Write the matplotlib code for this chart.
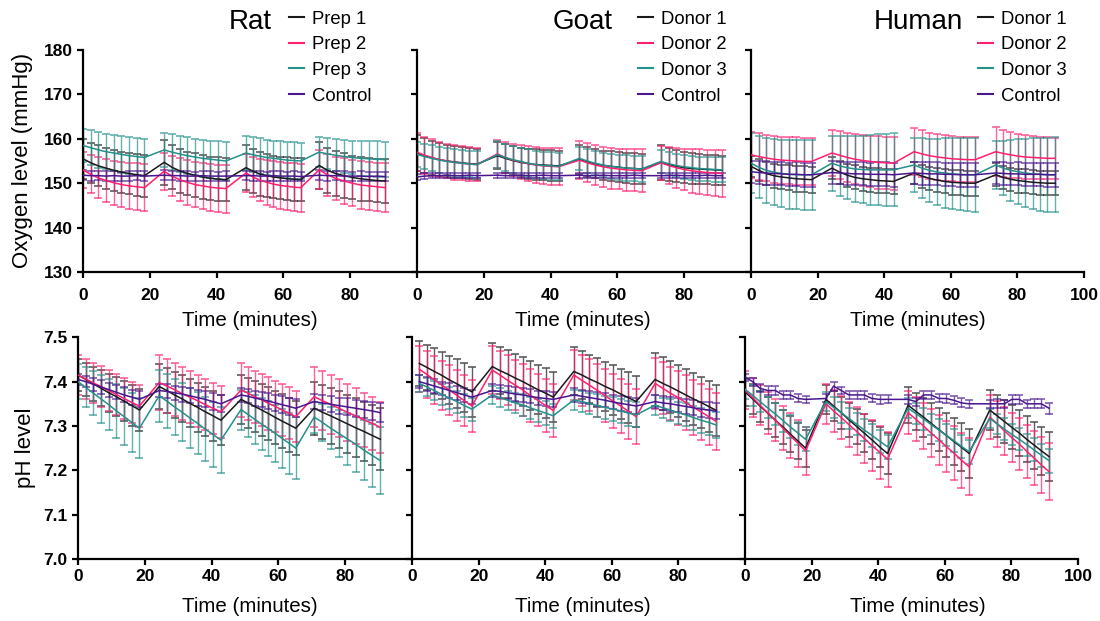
import numpy as np
import matplotlib
matplotlib.use("Agg")
import matplotlib.pyplot as plt
from matplotlib.lines import Line2D

plt.rcParams['font.family'] = ['Liberation Sans', 'DejaVu Sans']

nan = np.nan

# sampling times (minutes), 4 cycles of 9 readings each
RAT_T = [0, 2.3, 4.6, 6.9, 9.2, 11.5, 13.8, 16.1, 18.4,
         24.3, 26.6, 28.9, 31.2, 33.5, 35.8, 38.1, 40.4, 42.8,
         48.8, 50.9, 52.9, 55.0, 57.0, 59.1, 61.1, 63.2, 65.2,
         70.7, 73.2, 75.6, 78.1, 80.6, 83.1, 85.5, 88.0, 90.5]
GOAT_T = [0, 2.2, 4.5, 6.7, 9.0, 11.2, 13.5, 15.7, 18.0,
          24.1, 26.4, 28.7, 31.0, 33.3, 35.5, 37.8, 40.1, 42.4,
          48.6, 51.0, 53.3, 55.7, 58.0, 60.4, 62.7, 65.0, 67.3,
          73.0, 75.3, 77.6, 79.9, 82.2, 84.5, 86.8, 89.1, 91.4]
HUMAN_T = [0, 2.3, 4.5, 6.8, 9.1, 11.4, 13.6, 15.9, 18.2,
           24.3, 26.6, 28.9, 31.2, 33.5, 35.8, 38.1, 40.4, 42.8,
           49.0, 51.3, 53.6, 55.9, 58.2, 60.4, 62.7, 65.0, 67.3,
           73.5, 75.7, 77.9, 80.1, 82.4, 84.6, 86.8, 89.0, 91.3]

RAT_LABELS = ["Prep 1", "Prep 2", "Prep 3", "Control"]
DONOR_LABELS = ["Donor 1", "Donor 2", "Donor 3", "Control"]

# ---------------- oxygen level (mmHg): mean / SD ----------------
RAT_O2_1 = [155.5, 154.6, 153.9, 153.4, 152.9, 152.5, 152.2, 151.9, 151.7,
            154.7, 153.6, 152.8, 152.2, 151.8, 151.4, 151.1, 150.9, 150.8,
            153.5, 152.7, 152.1, 151.7, 151.4, 151.2, 151.0, 150.9, 150.8,
            154.0, 152.9, 152.2, 151.7, 151.3, 151.0, 150.8, 150.6, 150.5]
RAT_O2_1_SD = [4.5, 4.5, 4.6, 4.6, 4.6, 4.6, 4.7, 4.7, 4.7,
               5.0, 5.0, 4.9, 4.9, 4.9, 4.9, 4.9, 4.9, 4.9,
               5.0, 5.0, 4.9, 4.9, 4.8, 4.8, 4.8, 4.8, 4.8,
               5.2, 5.1, 5.0, 5.0, 4.9, 4.9, 4.9, 4.9, 4.9]
RAT_O2_2 = [153.0, 152.0, 151.2, 150.6, 150.1, 149.7, 149.4, 149.2, 149.0,
            152.7, 151.6, 150.8, 150.2, 149.7, 149.4, 149.1, 148.9, 148.8,
            152.3, 151.4, 150.7, 150.2, 149.8, 149.5, 149.3, 149.1, 149.0,
            153.0, 151.9, 151.1, 150.5, 150.0, 149.6, 149.4, 149.2, 149.0]
RAT_O2_2_SD = [4.0, 4.3, 4.6, 4.8, 5.0, 5.1, 5.2, 5.3, 5.3,
               4.2, 4.5, 4.8, 5.0, 5.1, 5.2, 5.3, 5.3, 5.4,
               4.3, 4.6, 4.8, 5.0, 5.1, 5.2, 5.3, 5.4, 5.4,
               4.4, 4.7, 4.9, 5.1, 5.2, 5.3, 5.4, 5.4, 5.5]
RAT_O2_3 = [158.5, 158.0, 157.5, 157.1, 156.8, 156.5, 156.2, 156.0, 155.8,
            157.5, 157.0, 156.6, 156.2, 155.9, 155.6, 155.4, 155.2, 155.0,
            156.8, 156.4, 156.1, 155.8, 155.6, 155.4, 155.2, 155.1, 155.0,
            157.0, 156.6, 156.3, 156.0, 155.8, 155.6, 155.5, 155.4, 155.3]
RAT_O2_3_SD = [3.8, 3.9, 4.0, 4.0, 4.1, 4.1, 4.1, 4.2, 4.2,
               3.9, 4.0, 4.0, 4.1, 4.1, 4.1, 4.2, 4.2, 4.2,
               3.9, 3.9, 4.0, 4.0, 4.0, 4.1, 4.1, 4.1, 4.1,
               3.3, 3.5, 3.6, 3.7, 3.8, 3.9, 3.9, 4.0, 4.0]
RAT_O2_C = [151.8, 151.7, 151.7, 151.6, 151.7, 151.6, 151.6, 151.7, 151.6,
            151.8, 151.7, 151.7, 151.6, 151.6, 151.7, 151.6, 151.6, 151.6,
            151.7, 151.7, 151.6, 151.6, 151.7, 151.6, 151.6, 151.6, 151.5,
            151.8, 151.7, 151.7, 151.6, 151.6, 151.6, 151.5, 151.6, 151.5]
RAT_O2_C_SD = [1.1, 1.1, 1.0, 1.1, 1.1, 1.0, 1.1, 1.0, 1.1,
               1.1, 1.0, 1.1, 1.1, 1.0, 1.1, 1.1, 1.0, 1.1,
               1.0, 1.1, 1.1, 1.0, 1.1, 1.1, 1.0, 1.1, 1.1,
               1.1, 1.1, 1.0, 1.1, 1.0, 1.1, 1.1, 1.0, 1.1]

GOAT_O2_1 = [156.8, 156.2, 155.7, 155.3, 155.0, 154.8, 154.6, 154.4, 154.3,
             156.2, 155.6, 155.1, 154.7, 154.4, 154.2, 154.1, 154.0, 153.9,
             155.3, 154.8, 154.4, 154.0, 153.8, 153.6, 153.4, 153.3, 153.2,
             154.7, 154.2, 153.8, 153.5, 153.3, 153.2, 153.1, 153.0, 152.9]
GOAT_O2_1_SD = [4.0, 3.9, 3.8, 3.7, 3.6, 3.6, 3.5, 3.5, 3.5,
                3.1, 3.2, 3.3, 3.3, 3.4, 3.4, 3.4, 3.4, 3.4,
                3.2, 3.3, 3.3, 3.3, 3.4, 3.4, 3.4, 3.4, 3.4,
                3.9, 3.7, 3.6, 3.5, 3.4, 3.4, 3.3, 3.3, 3.3]
GOAT_O2_2 = [157.0, 156.3, 155.8, 155.3, 155.0, 154.7, 154.5, 154.3, 154.2,
             156.6, 155.8, 155.2, 154.8, 154.4, 154.1, 153.9, 153.8, 153.7,
             155.2, 154.6, 154.1, 153.7, 153.4, 153.2, 153.0, 152.9, 152.8,
             154.6, 154.0, 153.5, 153.1, 152.8, 152.6, 152.4, 152.3, 152.2]
GOAT_O2_2_SD = [4.3, 4.2, 4.1, 4.0, 3.9, 3.9, 3.8, 3.8, 3.8,
                3.1, 3.4, 3.6, 3.8, 3.9, 4.0, 4.1, 4.1, 4.2,
                4.3, 4.4, 4.5, 4.5, 4.6, 4.6, 4.7, 4.7, 4.8,
                3.8, 4.2, 4.5, 4.7, 4.9, 5.0, 5.1, 5.2, 5.2]
GOAT_O2_3 = [156.5, 156.0, 155.6, 155.2, 154.9, 154.7, 154.5, 154.3, 154.2,
             156.4, 155.8, 155.3, 154.9, 154.5, 154.2, 154.0, 153.9, 153.8,
             155.6, 155.0, 154.5, 154.1, 153.8, 153.6, 153.4, 153.3, 153.2,
             154.9, 154.4, 154.0, 153.7, 153.5, 153.3, 153.2, 153.1, 153.0]
GOAT_O2_3_SD = [2.8, 2.8, 2.9, 2.9, 3.0, 3.0, 3.0, 3.0, 3.0,
                3.0, 3.0, 3.0, 3.1, 3.1, 3.1, 3.1, 3.1, 3.1,
                2.6, 2.7, 2.7, 2.8, 2.8, 2.8, 2.9, 2.9, 2.9,
                2.5, 2.6, 2.6, 2.7, 2.7, 2.7, 2.8, 2.8, 2.8]
GOAT_O2_C = [151.4, 151.6, 151.7, 151.7, 151.8, 151.7, 151.7, 151.8, 151.7,
             151.8, 151.7, 151.7, 151.8, 151.7, 151.7, 151.8, 151.7, 151.7,
             151.8, 151.7, 151.7, 151.8, 151.7, 151.7, 151.7, 151.8, 151.7,
             151.7, 151.7, 151.8, 151.7, 151.7, 151.7, 151.8, 151.7, 151.7]
GOAT_O2_C_SD = [0.6, 0.6, 0.5, 0.6, 0.6, 0.5, 0.6, 0.6, 0.6,
                0.6, 0.5, 0.6, 0.6, 0.6, 0.5, 0.6, 0.6, 0.6,
                0.6, 0.6, 0.5, 0.6, 0.6, 0.6, 0.5, 0.6, 0.6,
                0.5, 0.6, 0.6, 0.6, 0.5, 0.6, 0.6, 0.6, 0.6]

HUMAN_O2_1 = [153.8, 152.9, 152.2, 151.7, 151.4, 151.2, 151.0, 150.9, 150.8,
              153.4, 152.5, 151.8, 151.3, 151.0, 150.8, 150.6, 150.5, 150.4,
              152.3, 151.6, 151.1, 150.7, 150.4, 150.2, 150.1, 150.0, 150.0,
              151.9, 151.3, 150.9, 150.6, 150.4, 150.2, 150.1, 150.0, 150.0]
HUMAN_O2_1_SD = [2.4, 2.5, 2.6, 2.7, 2.8, 2.8, 2.9, 2.9, 2.9,
                 2.5, 2.6, 2.6, 2.7, 2.7, 2.7, 2.8, 2.8, 2.8,
                 2.5, 2.6, 2.6, 2.7, 2.7, 2.8, 2.8, 2.8, 2.8,
                 2.6, 2.6, 2.6, 2.7, 2.7, 2.7, 2.7, 2.7, 2.7]
HUMAN_O2_2 = [156.4, 156.0, 155.7, 155.4, 155.2, 155.1, 155.0, 154.9, 154.9,
              156.8, 156.3, 155.8, 155.4, 155.1, 154.9, 154.7, 154.6, 154.5,
              157.1, 156.6, 156.2, 155.9, 155.7, 155.5, 155.4, 155.3, 155.3,
              157.1, 156.7, 156.4, 156.1, 155.9, 155.8, 155.7, 155.6, 155.6]
HUMAN_O2_2_SD = [5.2, 5.2, 5.2, 5.3, 5.3, 5.3, 5.3, 5.3, 5.3,
                 5.2, 5.4, 5.5, 5.6, 5.7, 5.8, 5.9, 5.9, 6.0,
                 5.3, 5.3, 5.2, 5.2, 5.2, 5.1, 5.1, 5.1, 5.1,
                 5.5, 5.3, 5.2, 5.0, 4.9, 4.8, 4.7, 4.7, 4.6]
HUMAN_O2_3 = [154.5, 153.6, 152.9, 152.5, 152.2, 152.0, 151.9, 151.9, 151.9,
              154.5, 153.9, 153.5, 153.2, 153.1, 153.0, 153.0, 153.0, 153.0,
              154.1, 153.4, 152.9, 152.5, 152.3, 152.1, 152.0, 151.9, 151.9,
              154.1, 153.4, 152.9, 152.6, 152.3, 152.1, 152.0, 151.9, 151.9]
HUMAN_O2_3_SD = [6.7, 7.0, 7.3, 7.5, 7.6, 7.7, 7.8, 7.9, 7.9,
                 6.2, 6.7, 7.1, 7.4, 7.6, 7.8, 8.0, 8.1, 8.2,
                 6.1, 6.7, 7.1, 7.5, 7.8, 8.0, 8.1, 8.2, 8.3,
                 5.3, 6.1, 6.8, 7.3, 7.7, 8.0, 8.2, 8.3, 8.4]
HUMAN_O2_C = [152.6, 152.4, 152.3, 152.2, 152.1, 152.0, 152.0, 151.9, 151.9,
              152.4, 152.3, 152.2, 152.1, 152.1, 152.0, 152.0, 152.0, 151.9,
              152.3, 152.2, 152.1, 152.1, 152.0, 152.0, 151.9, 151.9, 151.9,
              152.3, 152.2, 152.1, 152.1, 152.0, 152.0, 152.0, 151.9, 151.9]
HUMAN_O2_C_SD = [2.5, 2.5, 2.6, 2.6, 2.6, 2.6, 2.7, 2.7, 2.7,
                 2.5, 2.5, 2.6, 2.6, 2.6, 2.6, 2.7, 2.7, 2.7,
                 2.5, 2.5, 2.6, 2.6, 2.6, 2.6, 2.7, 2.7, 2.7,
                 2.4, 2.5, 2.5, 2.6, 2.6, 2.6, 2.6, 2.7, 2.7]

# ---------------- pH: mean / SD ----------------
RAT_PH_1 = [7.415, 7.405, 7.395, 7.385, 7.375, 7.366, 7.356, 7.346, 7.336,
            7.389, 7.380, 7.370, 7.361, 7.351, 7.342, 7.332, 7.323, 7.313,
            7.360, 7.352, 7.344, 7.336, 7.328, 7.319, 7.311, 7.303, 7.295,
            7.340, 7.331, 7.323, 7.314, 7.305, 7.296, 7.288, 7.279, 7.270]
RAT_PH_1_SD = [0.035, 0.037, 0.039, 0.041, 0.043, 0.044, 0.045, 0.046, 0.047,
               0.050, 0.051, 0.052, 0.053, 0.054, 0.055, 0.055, 0.056, 0.056,
               0.055, 0.056, 0.057, 0.058, 0.059, 0.060, 0.060, 0.061, 0.061,
               0.060, 0.061, 0.063, 0.064, 0.065, 0.066, 0.067, 0.068, 0.070]
RAT_PH_2 = [7.415, 7.406, 7.397, 7.389, 7.380, 7.371, 7.362, 7.353, 7.345,
            7.398, 7.390, 7.382, 7.373, 7.365, 7.357, 7.348, 7.340, 7.332,
            7.381, 7.374, 7.366, 7.359, 7.351, 7.344, 7.336, 7.329, 7.321,
            7.366, 7.357, 7.349, 7.340, 7.331, 7.323, 7.314, 7.306, 7.297]
RAT_PH_2_SD = [0.045, 0.045, 0.045, 0.046, 0.046, 0.046, 0.047, 0.047, 0.047,
               0.062, 0.061, 0.060, 0.060, 0.059, 0.059, 0.058, 0.058, 0.058,
               0.060, 0.060, 0.059, 0.059, 0.059, 0.058, 0.058, 0.058, 0.058,
               0.068, 0.067, 0.066, 0.065, 0.064, 0.063, 0.061, 0.060, 0.058]
RAT_PH_3 = [7.400, 7.387, 7.374, 7.361, 7.348, 7.334, 7.321, 7.308, 7.295,
            7.368, 7.356, 7.343, 7.331, 7.318, 7.306, 7.293, 7.281, 7.268,
            7.337, 7.326, 7.315, 7.304, 7.294, 7.283, 7.272, 7.261, 7.250,
            7.320, 7.308, 7.295, 7.283, 7.271, 7.259, 7.246, 7.234, 7.222]
RAT_PH_3_SD = [0.040, 0.045, 0.050, 0.054, 0.058, 0.061, 0.064, 0.066, 0.068,
               0.058, 0.061, 0.064, 0.066, 0.068, 0.070, 0.072, 0.073, 0.074,
               0.045, 0.050, 0.055, 0.059, 0.062, 0.065, 0.067, 0.069, 0.070,
               0.035, 0.042, 0.048, 0.054, 0.059, 0.063, 0.067, 0.071, 0.075]
RAT_PH_C = [7.405, 7.400, 7.394, 7.388, 7.382, 7.376, 7.370, 7.365, 7.360,
            7.380, 7.378, 7.375, 7.372, 7.368, 7.364, 7.360, 7.355, 7.350,
            7.370, 7.367, 7.363, 7.360, 7.356, 7.352, 7.348, 7.344, 7.340,
            7.355, 7.352, 7.349, 7.346, 7.343, 7.340, 7.337, 7.334, 7.330]
RAT_PH_C_SD = [0.012, 0.013, 0.014, 0.015, 0.016, 0.016, 0.017, 0.017, 0.018,
               0.015, 0.016, 0.016, 0.017, 0.017, 0.018, 0.018, 0.019, 0.019,
               0.016, 0.016, 0.017, 0.017, 0.018, 0.018, 0.019, 0.019, 0.020,
               0.017, 0.017, 0.018, 0.018, 0.019, 0.019, 0.020, 0.020, 0.021]

GOAT_PH_1 = [nan, 7.441, 7.432, 7.423, 7.414, 7.404, 7.395, 7.386, 7.377,
             7.434, 7.425, 7.417, 7.408, 7.400, 7.391, 7.382, 7.374, 7.365,
             7.423, 7.415, 7.406, 7.398, 7.389, 7.381, 7.372, 7.364, 7.355,
             7.405, 7.396, 7.388, 7.379, 7.370, 7.361, 7.353, 7.344, 7.335]
GOAT_PH_1_SD = [nan, 0.050, 0.051, 0.052, 0.053, 0.054, 0.055, 0.055, 0.056,
                0.054, 0.054, 0.055, 0.055, 0.055, 0.056, 0.056, 0.056, 0.056,
                0.054, 0.054, 0.055, 0.055, 0.056, 0.056, 0.056, 0.057, 0.057,
                0.059, 0.059, 0.058, 0.058, 0.058, 0.058, 0.057, 0.057, 0.057]
GOAT_PH_2 = [nan, 7.428, 7.416, 7.404, 7.392, 7.381, 7.369, 7.357, 7.345,
             7.426, 7.415, 7.403, 7.392, 7.381, 7.369, 7.358, 7.346, 7.335,
             7.415, 7.403, 7.392, 7.380, 7.368, 7.356, 7.345, 7.333, 7.321,
             7.396, 7.385, 7.374, 7.364, 7.353, 7.342, 7.332, 7.321, 7.310]
GOAT_PH_2_SD = [nan, 0.052, 0.053, 0.054, 0.055, 0.056, 0.057, 0.058, 0.058,
                0.054, 0.055, 0.056, 0.057, 0.058, 0.059, 0.059, 0.060, 0.060,
                0.056, 0.057, 0.058, 0.059, 0.060, 0.061, 0.061, 0.062, 0.062,
                0.058, 0.059, 0.060, 0.061, 0.061, 0.062, 0.063, 0.063, 0.064]
GOAT_PH_3 = [nan, 7.396, 7.388, 7.380, 7.371, 7.363, 7.355, 7.346, 7.338,
             7.370, 7.364, 7.358, 7.352, 7.347, 7.341, 7.335, 7.329, 7.323,
             7.359, 7.355, 7.351, 7.346, 7.342, 7.338, 7.334, 7.329, 7.325,
             7.347, 7.341, 7.336, 7.330, 7.325, 7.319, 7.313, 7.308, 7.302]
GOAT_PH_3_SD = [nan, 0.020, 0.021, 0.022, 0.023, 0.024, 0.025, 0.025, 0.026,
                0.020, 0.021, 0.022, 0.023, 0.024, 0.025, 0.026, 0.027, 0.027,
                0.022, 0.023, 0.024, 0.025, 0.026, 0.027, 0.027, 0.028, 0.028,
                0.022, 0.023, 0.024, 0.025, 0.026, 0.027, 0.028, 0.029, 0.030]
GOAT_PH_C = [nan, 7.400, 7.395, 7.390, 7.385, 7.380, 7.375, 7.370, 7.365,
             7.380, 7.378, 7.375, 7.372, 7.370, 7.367, 7.364, 7.362, 7.360,
             7.370, 7.367, 7.364, 7.361, 7.358, 7.354, 7.351, 7.348, 7.345,
             7.355, 7.352, 7.350, 7.347, 7.344, 7.341, 7.338, 7.336, 7.333]
GOAT_PH_C_SD = [nan, 0.014, 0.015, 0.015, 0.015, 0.016, 0.016, 0.016, 0.016,
                0.014, 0.015, 0.015, 0.015, 0.016, 0.016, 0.016, 0.016, 0.017,
                0.015, 0.015, 0.015, 0.016, 0.016, 0.016, 0.017, 0.017, 0.017,
                0.015, 0.015, 0.016, 0.016, 0.016, 0.017, 0.017, 0.017, 0.018]

HUMAN_PH_1 = [7.377, 7.361, 7.345, 7.329, 7.313, 7.298, 7.282, 7.266, 7.250,
              7.360, 7.345, 7.330, 7.314, 7.299, 7.284, 7.269, 7.253, 7.238,
              7.347, 7.333, 7.320, 7.306, 7.292, 7.279, 7.265, 7.252, 7.238,
              7.336, 7.323, 7.310, 7.297, 7.284, 7.270, 7.257, 7.244, 7.231]
HUMAN_PH_1_SD = [0.032, 0.034, 0.035, 0.036, 0.038, 0.039, 0.040, 0.041, 0.042,
                 0.032, 0.034, 0.036, 0.038, 0.040, 0.042, 0.043, 0.045, 0.046,
                 0.040, 0.042, 0.044, 0.046, 0.048, 0.050, 0.052, 0.054, 0.056,
                 0.045, 0.047, 0.048, 0.050, 0.051, 0.052, 0.053, 0.054, 0.055]
HUMAN_PH_2 = [7.381, 7.364, 7.347, 7.330, 7.313, 7.295, 7.278, 7.261, 7.244,
              7.350, 7.334, 7.319, 7.303, 7.288, 7.272, 7.256, 7.241, 7.225,
              7.330, 7.315, 7.300, 7.284, 7.269, 7.254, 7.239, 7.223, 7.208,
              7.320, 7.305, 7.289, 7.274, 7.259, 7.243, 7.228, 7.212, 7.197]
HUMAN_PH_2_SD = [0.042, 0.044, 0.045, 0.047, 0.048, 0.050, 0.051, 0.053, 0.054,
                 0.045, 0.047, 0.049, 0.051, 0.054, 0.056, 0.058, 0.060, 0.062,
                 0.048, 0.050, 0.052, 0.054, 0.056, 0.058, 0.060, 0.062, 0.064,
                 0.050, 0.052, 0.054, 0.056, 0.058, 0.060, 0.061, 0.063, 0.064]
HUMAN_PH_3 = [7.383, 7.369, 7.355, 7.341, 7.327, 7.312, 7.298, 7.284, 7.270,
              7.355, 7.342, 7.330, 7.317, 7.304, 7.291, 7.279, 7.266, 7.253,
              7.340, 7.328, 7.316, 7.303, 7.291, 7.279, 7.267, 7.254, 7.242,
              7.317, 7.305, 7.293, 7.281, 7.270, 7.258, 7.246, 7.234, 7.222]
HUMAN_PH_3_SD = [0.022, 0.023, 0.024, 0.024, 0.025, 0.025, 0.026, 0.026, 0.027,
                 0.022, 0.023, 0.024, 0.024, 0.025, 0.025, 0.026, 0.026, 0.027,
                 0.022, 0.023, 0.024, 0.024, 0.025, 0.025, 0.026, 0.026, 0.027,
                 0.022, 0.023, 0.024, 0.024, 0.025, 0.025, 0.026, 0.026, 0.027]
HUMAN_PH_C = [7.410, 7.400, 7.385, 7.380, 7.380, 7.370, 7.370, 7.362, 7.360,
              7.362, 7.390, 7.380, 7.370, 7.370, 7.370, 7.362, 7.360, 7.360,
              7.360, 7.355, 7.370, 7.370, 7.362, 7.362, 7.358, 7.352, 7.350,
              7.350, 7.350, 7.350, 7.360, 7.360, 7.350, 7.350, 7.350, 7.340]
HUMAN_PH_C_SD = [0.008, 0.009, 0.009, 0.010, 0.010, 0.009, 0.010, 0.009, 0.008,
                 0.009, 0.010, 0.009, 0.009, 0.010, 0.010, 0.009, 0.010, 0.009,
                 0.010, 0.009, 0.010, 0.010, 0.009, 0.010, 0.009, 0.010, 0.009,
                 0.009, 0.010, 0.009, 0.010, 0.010, 0.009, 0.010, 0.010, 0.012]

COLORS = ["#1a1a1a", "#ff1f70", "#23918b", "#4a168e"]


def draw_panel(ax, t, means, sds):
    # error bars first (lighter), mean lines on top
    for m, s, c in zip(means, sds, COLORS):
        ax.errorbar(t, m, yerr=s, fmt='none', ecolor=c, elinewidth=1.0,
                    capsize=2.8, capthick=1.2, alpha=0.7, zorder=2)
    for m, c in zip(means, COLORS):
        ax.plot(t, m, color=c, lw=1.1, zorder=3)
    ax.set_xlim(0, 100)
    for side in ['top', 'right']:
        ax.spines[side].set_visible(False)
    for side in ['left', 'bottom']:
        ax.spines[side].set_linewidth(1.6)
    ax.tick_params(direction='out', length=4.5, width=1.6, labelsize=12.5, pad=3)


W, H = 1100, 621
fig = plt.figure(figsize=(W / 100, H / 100), dpi=100)


def px_axes(x0, x1, ytop, ybot):
    return fig.add_axes([x0 / W, 1 - ybot / H, (x1 - x0) / W, (ybot - ytop) / H])


top_x = [(83, 417), (417, 751), (751, 1084)]
bot_x = [(78, 412), (412, 745), (745, 1078)]

species = [
    ("Rat", RAT_T, RAT_LABELS,
     [RAT_O2_1, RAT_O2_2, RAT_O2_3, RAT_O2_C], [RAT_O2_1_SD, RAT_O2_2_SD, RAT_O2_3_SD, RAT_O2_C_SD],
     [RAT_PH_1, RAT_PH_2, RAT_PH_3, RAT_PH_C], [RAT_PH_1_SD, RAT_PH_2_SD, RAT_PH_3_SD, RAT_PH_C_SD]),
    ("Goat", GOAT_T, DONOR_LABELS,
     [GOAT_O2_1, GOAT_O2_2, GOAT_O2_3, GOAT_O2_C], [GOAT_O2_1_SD, GOAT_O2_2_SD, GOAT_O2_3_SD, GOAT_O2_C_SD],
     [GOAT_PH_1, GOAT_PH_2, GOAT_PH_3, GOAT_PH_C], [GOAT_PH_1_SD, GOAT_PH_2_SD, GOAT_PH_3_SD, GOAT_PH_C_SD]),
    ("Human", HUMAN_T, DONOR_LABELS,
     [HUMAN_O2_1, HUMAN_O2_2, HUMAN_O2_3, HUMAN_O2_C], [HUMAN_O2_1_SD, HUMAN_O2_2_SD, HUMAN_O2_3_SD, HUMAN_O2_C_SD],
     [HUMAN_PH_1, HUMAN_PH_2, HUMAN_PH_3, HUMAN_PH_C], [HUMAN_PH_1_SD, HUMAN_PH_2_SD, HUMAN_PH_3_SD, HUMAN_PH_C_SD]),
]

title_x = [250, 583, 918]
legend_x = [289, 638, 978]

for i, (name, t, labels, o2, o2sd, ph, phsd) in enumerate(species):
    ax1 = px_axes(top_x[i][0], top_x[i][1], 50, 272)
    draw_panel(ax1, t, o2, o2sd)
    ax1.set_ylim(130, 180)
    ax1.set_yticks([130, 140, 150, 160, 170, 180])
    ax1.tick_params(axis='x', pad=7)

    ax2 = px_axes(bot_x[i][0], bot_x[i][1], 337.3, 559)
    draw_panel(ax2, t, ph, phsd)
    ax2.set_ylim(7.0, 7.5)
    ax2.set_yticks([7.0, 7.1, 7.2, 7.3, 7.4, 7.5])
    ax2.set_yticklabels(['7.0', '7.1', '7.2', '7.3', '7.4', '7.5'])

    if i < 2:
        ticks = [0, 20, 40, 60, 80]
    else:
        ticks = [0, 20, 40, 60, 80, 100]
    for ax in (ax1, ax2):
        ax.set_xticks(ticks)
        ax.set_xticklabels([str(v) for v in ticks])
        if i > 0:
            ax.set_yticklabels([])
        for lab in ax.get_xticklabels() + ax.get_yticklabels():
            lab.set_fontweight('bold')

    fig.text(title_x[i] / W, 1 - 22 / H, name, fontsize=20, ha='center', va='center')
    fig.text(title_x[i] / W, 1 - 320 / H, "Time (minutes)", fontsize=14.8, ha='center', va='center')
    fig.text(title_x[i] / W, 1 - 607 / H, "Time (minutes)", fontsize=14.8, ha='center', va='center')

    handles = [Line2D([], [], color=c, lw=1.5) for c in COLORS]
    ax1.legend(handles, labels, loc='upper left', bbox_to_anchor=(legend_x[i] / W, 1 - 10.5 / H),
               bbox_transform=fig.transFigure, frameon=False, fontsize=13.3,
               handlelength=0.8, handletextpad=0.45, labelspacing=0.47,
               borderpad=0, borderaxespad=0)

fig.text(23 / W, 1 - 160 / H, "Oxygen level (mmHg)", fontsize=16, rotation=90,
         ha='center', va='center')
fig.text(25 / W, 1 - 448 / H, "pH level", fontsize=16, rotation=90,
         ha='center', va='center')

fig.savefig("out.png", dpi=100)
